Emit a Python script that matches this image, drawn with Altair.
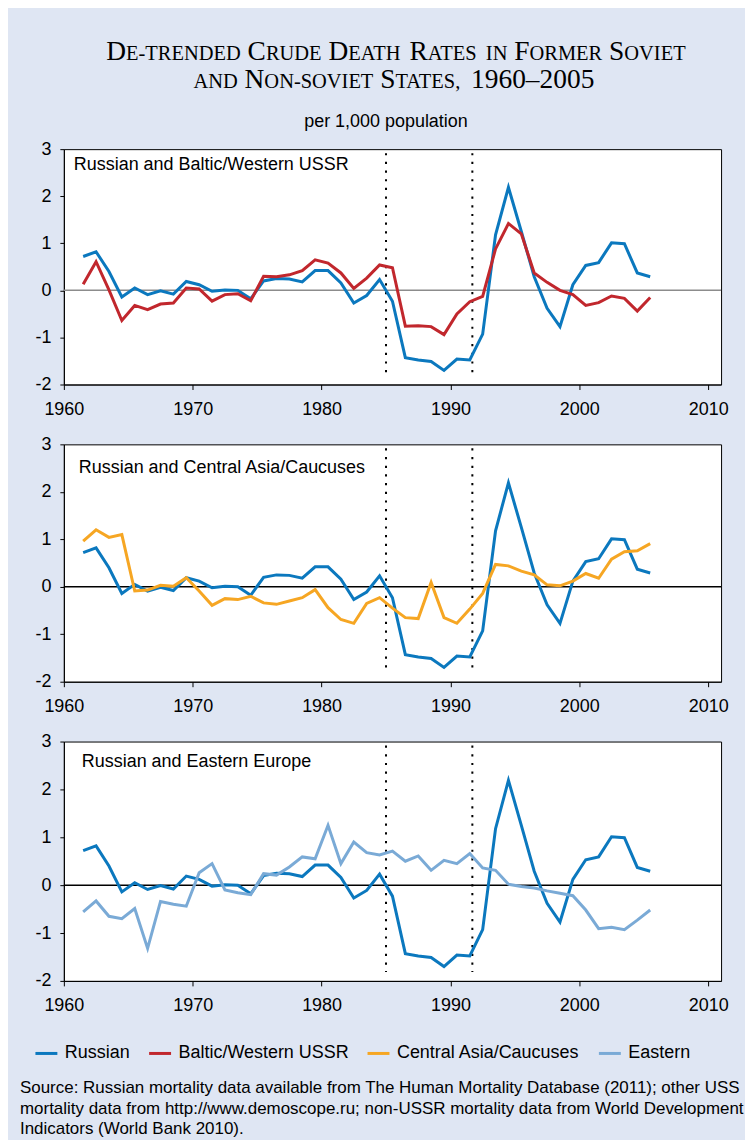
import altair as alt
import pandas as pd

# ---------------- data ----------------
years = list(range(1961, 2006))

russian = [0.72, 0.82, 0.40, -0.14, 0.05, -0.09, -0.01, -0.08, 0.19, 0.12,
           -0.02, 0.01, 0.00, -0.18, 0.20, 0.25, 0.24, 0.18, 0.42, 0.42,
           0.16, -0.27, -0.11, 0.23, -0.23, -1.43, -1.48, -1.51, -1.70, -1.46,
           -1.48, -0.93, 1.18, 2.19, 1.25, 0.29, -0.38, -0.77, 0.12, 0.53,
           0.59, 1.01, 0.99, 0.37, 0.29]

baltic_western = [0.13, 0.61, 0.01, -0.64, -0.32, -0.41, -0.29, -0.27, 0.05, 0.03,
                  -0.23, -0.09, -0.07, -0.22, 0.30, 0.29, 0.33, 0.42, 0.65, 0.58,
                  0.37, 0.04, 0.26, 0.54, 0.48, -0.76, -0.75, -0.77, -0.94, -0.50,
                  -0.24, -0.13, 0.88, 1.42, 1.20, 0.37, 0.17, 0.00, -0.09, -0.32,
                  -0.26, -0.12, -0.17, -0.44, -0.15]

central_asia = [0.96, 1.20, 1.04, 1.10, -0.09, -0.07, 0.03, 0.01, 0.19, -0.09,
                -0.39, -0.25, -0.27, -0.20, -0.34, -0.37, -0.30, -0.23, -0.06, -0.44,
                -0.69, -0.77, -0.35, -0.23, -0.45, -0.65, -0.67, 0.09, -0.65, -0.77,
                -0.47, -0.14, 0.47, 0.44, 0.33, 0.25, 0.04, 0.02, 0.12, 0.28,
                0.18, 0.58, 0.74, 0.76, 0.91]

eastern = [-0.56, -0.33, -0.65, -0.70, -0.49, -1.32, -0.34, -0.40, -0.44, 0.26,
           0.45, -0.10, -0.16, -0.20, 0.24, 0.21, 0.38, 0.59, 0.55, 1.25,
           0.45, 0.90, 0.68, 0.63, 0.71, 0.50, 0.61, 0.31, 0.52, 0.45,
           0.66, 0.36, 0.31, 0.02, -0.03, -0.06, -0.12, -0.17, -0.22, -0.52,
           -0.91, -0.88, -0.93, -0.73, -0.52]

series_names = ["Russian", "Baltic/Western USSR", "Central Asia/Caucuses", "Eastern"]
series_colors = ["#0b78be", "#c1272d", "#f6a623", "#7aaad6"]

panel_labels = ["Russian and Baltic/Western USSR",
                "Russian and Central Asia/Caucuses",
                "Russian and Eastern Europe"]
panel_partner = ["Baltic/Western USSR", "Central Asia/Caucuses", "Eastern"]
zero_line_colors = ["#8c8c8c", "black", "black"]

event_years = [1985, 1991.7]
x_ticks = [1960, 1970, 1980, 1990, 2000, 2010]
y_ticks = [-2, -1, 0, 1, 2, 3]

title_lines = ["De-trended Crude Death Rates in Former Soviet",
               "and Non-soviet States, 1960\u20132005"]
subtitle = "per 1,000 population"
source_lines = [
    "Source: Russian mortality data available from The Human Mortality Database (2011); other USSR",
    "mortality data from http://www.demoscope.ru; non-USSR mortality data from World Development",
    "Indicators (World Bank 2010).",
]

# ---------------- long table ----------------
rows = []
for name, vals in zip(series_names, [russian, baltic_western, central_asia, eastern]):
    for yr, v in zip(years, vals):
        rows.append({"series": name, "year": yr, "value": v})
df = pd.DataFrame(rows)

# ---------------- style ----------------
SANS = "Liberation Sans"
SERIF = "Liberation Serif"
BG = "#dfe6f3"
PLOT_W = 659
PANEL_H = [236, 238, 240]
GAP = 60
HEAD_H = 79
SRC_H = 94

x_scale = alt.Scale(domain=[1960, 2011], nice=False, zero=False)
y_scale = alt.Scale(domain=[-2, 3], nice=False, zero=False)

x_axis = alt.Axis(values=x_ticks, format="d", tickSize=5, labelPadding=11,
                  labelFlush=False, domainColor="black", tickColor="black",
                  labelColor="black", labelFont=SANS, labelFontSize=18,
                  grid=False, title=None, labelOverlap=False)
y_axis = alt.Axis(values=y_ticks, tickSize=4, labelPadding=9,
                  labelExpr="'' + datum.value",
                  domainColor="black", tickColor="black", labelColor="black",
                  labelFont=SANS, labelFontSize=18, grid=False, title=None,
                  labelOverlap=False)

legend = alt.Legend(orient="none", legendX=-30, legendY=1033,
                    direction="horizontal", title=None, symbolType="stroke",
                    symbolSize=484, symbolStrokeWidth=3, labelFont=SANS,
                    labelFontSize=18, labelColor="black", labelOffset=6,
                    columnPadding=12, labelLimit=400)

color = alt.Color("series:N",
                  scale=alt.Scale(domain=series_names, range=series_colors),
                  legend=legend, title=None)

X = alt.X("xpos:Q", scale=x_scale, axis=x_axis, title=None)
Y = alt.Y("value:Q", scale=y_scale, axis=y_axis, title=None)

label_offsets = [(10, 16), (15, 24), (18, 21)]


def panel(i):
    h = PANEL_H[i]
    base = alt.Chart(df).transform_calculate(xpos="datum.year + 0.5")
    zero = alt.Chart(pd.DataFrame({"z": [0]})).mark_rule(
        color=zero_line_colors[i], strokeWidth=1.5
    ).encode(y=alt.datum(0, scale=y_scale, axis=y_axis, title=None))
    events = alt.Chart(pd.DataFrame({"ev": event_years})).mark_rule(
        color="black", strokeWidth=2, strokeDash=[2.2, 6.5]
    ).encode(x=alt.X("ev:Q", scale=x_scale, axis=x_axis, title=None),
             y=alt.value(4), y2=alt.value(h - 9))
    rus = base.transform_filter(alt.datum.series == "Russian").mark_line(
        strokeWidth=3).encode(x=X, y=Y, color=color)
    other = base.transform_filter(alt.datum.series == panel_partner[i]).mark_line(
        strokeWidth=3).encode(x=X, y=Y, color=color)
    dx, dy = label_offsets[i]
    label = alt.Chart(pd.DataFrame({"label": [panel_labels[i]]})).mark_text(
        align="left", baseline="middle", font=SANS, fontSize=18, color="black"
    ).encode(text="label:N", x=alt.value(dx), y=alt.value(dy))
    return alt.layer(zero, events, rus, other, label).properties(
        width=PLOT_W, height=h,
        view=alt.ViewBackground(fill="white", stroke="black", strokeWidth=1))


# ---------------- heading in small caps ----------------
TIMES_W = {"A": 722, "B": 667, "C": 667, "D": 722, "E": 611, "F": 556, "G": 722,
           "H": 722, "I": 333, "J": 389, "K": 722, "L": 611, "M": 889, "N": 722,
           "O": 722, "P": 556, "Q": 722, "R": 667, "S": 556, "T": 611, "U": 722,
           "V": 722, "W": 944, "X": 722, "Y": 722, "Z": 611, " ": 250, "-": 333,
           ",": 250, ".": 250, "\u2013": 500}
for d in "0123456789":
    TIMES_W[d] = 500

BIG, SMALL = 27.5, 20.5


def smallcaps(line):
    segs = []
    x = 0.0
    cur, cur_size, cur_x = "", None, 0.0
    prev = BIG
    for ch in line:
        if ch == " ":
            if cur:
                segs.append((cur, cur_size, cur_x))
                cur = ""
            x += TIMES_W[" "] * BIG / 1000
            continue
        if ch.islower():
            disp, size = ch.upper(), SMALL
        elif ch in "-,":
            disp, size = ch, prev
        else:
            disp, size = ch, BIG
        if cur and size != cur_size:
            segs.append((cur, cur_size, cur_x))
            cur = ""
        if not cur:
            cur_x, cur_size = x, size
        cur += disp
        x += TIMES_W.get(disp, 600) * size / 1000
        prev = size
    if cur:
        segs.append((cur, cur_size, cur_x))
    return segs, x


title_centers = [333, 331]
title_baselines = [50, 78]
head_rows = []
for line, cx, by in zip(title_lines, title_centers, title_baselines):
    segs, total = smallcaps(line)
    for t, s, sx in segs:
        head_rows.append({"t": t, "fs": s, "px": cx - total / 2 + sx, "py": by})
head_df = pd.DataFrame(head_rows)

title_text = alt.Chart(head_df).mark_text(
    align="left", baseline="alphabetic", font=SERIF, color="black"
).encode(x=alt.X("px:Q", scale=None, axis=None),
         y=alt.Y("py:Q", scale=None, axis=None),
         size=alt.Size("fs:Q", scale=None, legend=None),
         text="t:N")
sub_text = alt.Chart(pd.DataFrame({"s": [subtitle]})).mark_text(
    align="center", baseline="alphabetic", font=SANS, fontSize=18, color="black"
).encode(x=alt.value(323), y=alt.value(117), text="s:N")
heading = alt.layer(title_text, sub_text).properties(
    width=PLOT_W, height=HEAD_H,
    view=alt.ViewBackground(fill="transparent", stroke="transparent"))

# ---------------- source note ----------------
source = alt.Chart(pd.DataFrame({"a": [0]})).mark_text(
    align="left", baseline="alphabetic", font=SANS, fontSize=17, lineHeight=21,
    limit=734, ellipsis="\u200b", color="black"
).encode(x=alt.value(-44), y=alt.value(52), text=alt.value(source_lines)).properties(
    width=PLOT_W, height=SRC_H,
    view=alt.ViewBackground(fill="transparent", stroke="transparent"))

chart = alt.vconcat(heading, panel(0), panel(1), panel(2), source,
                    spacing=GAP, bounds="flush").resolve_scale(
    color="shared").properties(
    background=BG,
    padding={"left": 11, "top": 0, "right": 0, "bottom": 0})

chart.save("out.html", embed_options={"renderer": "svg", "actions": False})
